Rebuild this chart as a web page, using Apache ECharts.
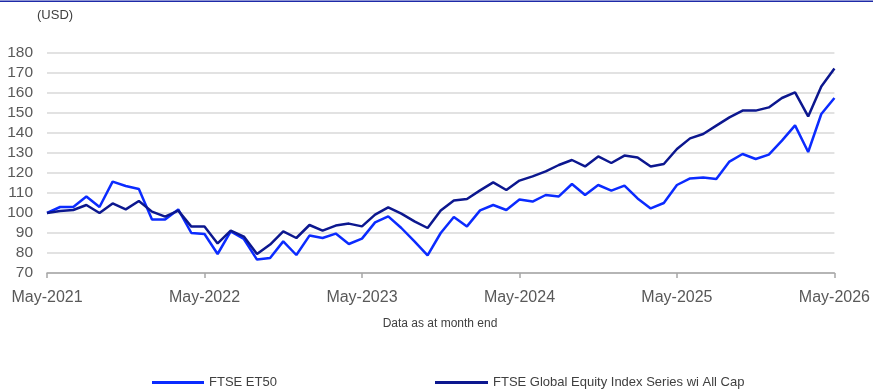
<!DOCTYPE html>
<html>
<head>
<meta charset="utf-8">
<script src="https://cdn.jsdelivr.net/npm/echarts@6/dist/echarts.min.js"></script>
<style>
  html, body { margin: 0; padding: 0; background: #ffffff; }
  #chart { width: 873px; height: 392px; }
</style>
</head>
<body>
<div id="chart"></div>
<script>
// Monthly index levels (USD, rebased to 100), May-2021 .. May-2026
const startYear = 2021;
const monthNames = ['Jan','Feb','Mar','Apr','May','Jun','Jul','Aug','Sep','Oct','Nov','Dec'];
const months = [];
for (let i = 0; i <= 60; i++) {
  const m = (4 + i) % 12;
  const y = startYear + Math.floor((4 + i) / 12);
  months.push(monthNames[m] + '-' + y);
}

const seriesNames = ['FTSE ET50', 'FTSE Global Equity Index Series wi All Cap'];

const et50 = [
  100, 103, 103, 108.2, 103, 115.7, 113.5, 112, 96.8, 96.8, 101.8, 90,
  89.5, 79.5, 90.8, 87, 76.7, 77.5, 85.8, 79, 88.7, 87.5, 89.7, 84.5,
  87.2, 95.3, 98.3, 92.5, 85.8, 78.8, 90, 98, 93.3, 101.3, 104, 101.5,
  106.7, 105.7, 109, 108.3, 114.5, 109, 114, 111.2, 113.7, 107.3, 102.3, 105,
  114, 117.3, 117.8, 117, 125.7, 129.5, 127, 129.2, 136.2, 143.8, 130.5, 149.5,
  157.5
];

const globalAllCap = [
  100, 101, 101.5, 104, 100, 104.8, 101.8, 106, 100.7, 98.2, 101.2, 93.2,
  93.2, 84.8, 91.2, 88.2, 79.5, 84.2, 90.8, 87.5, 94, 91.2, 93.7, 94.7,
  93.3, 99.2, 102.8, 99.7, 95.8, 92.5, 101.3, 106.3, 107, 111.3, 115.3, 111.5,
  116.2, 118.3, 120.8, 124, 126.5, 123.3, 128.3, 125, 128.7, 127.8, 123.2, 124.5,
  132, 137.3, 139.5, 143.7, 147.8, 151.2, 151.2, 152.8, 157.5, 160.3, 148.3, 163.3,
  172.2
];

const yMin = 70, yMax = 180, yStep = 10;

const colorET50 = '#0b2bff';
const colorGlobal = '#0c178f';

const chart = echarts.init(document.getElementById('chart'), null, { renderer: 'canvas' });
const font = 'Arial, "Liberation Sans", sans-serif';

const legendText = { fontSize: 13, color: '#404040', fontFamily: font };

chart.setOption({
  animation: false,
  backgroundColor: '#ffffff',
  textStyle: { fontFamily: font },
  grid: { left: 47, right: 36, top: 53, bottom: 119, containLabel: false },
  graphic: [
    { type: 'rect', shape: { x: 0, y: 0.5, width: 873, height: 1.5 }, style: { fill: '#1e2aa8' } },
    { type: 'text', x: 37, y: 9, style: { text: '(USD)', font: '13px ' + font, fill: '#404040' } },
    { type: 'text', x: 440, y: 318, style: { text: 'Data as at month end', font: '12px ' + font, fill: '#404040', align: 'center' } }
  ],
  legend: [
    {
      data: [seriesNames[0]], left: 152, top: 376, padding: 0, icon: 'rect',
      itemWidth: 52, itemHeight: 3, textStyle: legendText
    },
    {
      data: [seriesNames[1]], left: 435, top: 376, padding: 0, icon: 'rect',
      itemWidth: 53, itemHeight: 3, textStyle: legendText
    }
  ],
  xAxis: {
    type: 'category',
    data: months,
    boundaryGap: false,
    axisLine: { lineStyle: { color: '#a6a6a6', width: 1.5 } },
    axisTick: { show: true, interval: 11, length: 5, lineStyle: { color: '#a6a6a6', width: 1.5 } },
    axisLabel: { interval: 11, margin: 17, fontSize: 16, color: '#595959', fontFamily: font },
    splitLine: { show: false }
  },
  yAxis: {
    type: 'value',
    min: yMin, max: yMax, interval: yStep,
    axisLine: { show: false },
    axisTick: { show: false },
    axisLabel: { margin: 14, fontSize: 15.5, color: '#595959', fontFamily: font },
    splitLine: { lineStyle: { color: '#d9d9d9', width: 1.5 } }
  },
  series: [
    {
      name: seriesNames[0], type: 'line', data: et50,
      showSymbol: false, symbol: 'none',
      lineStyle: { color: colorET50, width: 2.5 }, itemStyle: { color: colorET50 }
    },
    {
      name: seriesNames[1], type: 'line', data: globalAllCap,
      showSymbol: false, symbol: 'none',
      lineStyle: { color: colorGlobal, width: 2.5 }, itemStyle: { color: colorGlobal }
    }
  ]
});
</script>
</body>
</html>
